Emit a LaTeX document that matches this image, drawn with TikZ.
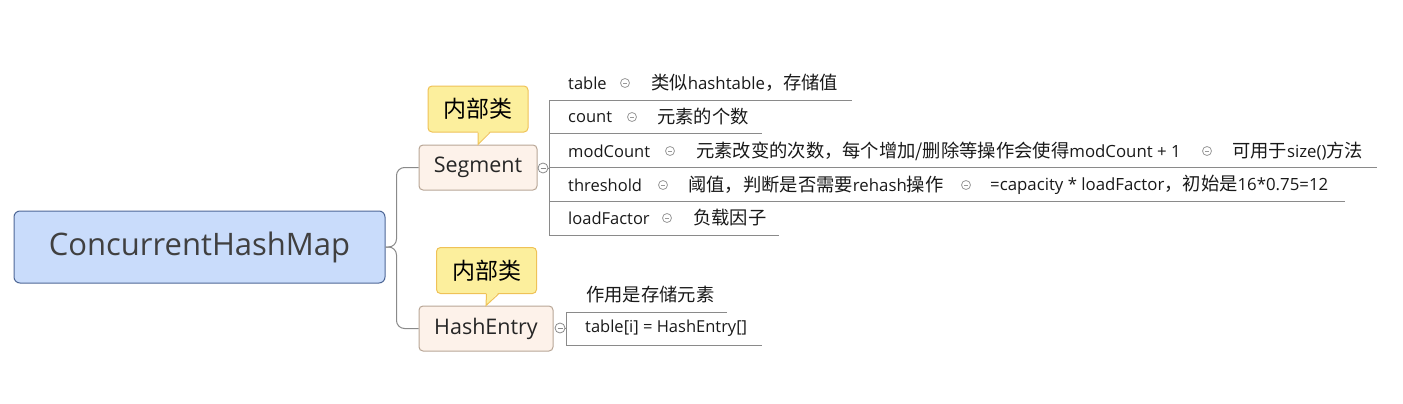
\documentclass[tikz,border=0pt]{standalone}
\usepackage{fontspec}
\setmainfont{Open Sans}
\newfontfamily\cjk{Noto Sans CJK SC}
\usepackage{tikz}
\usetikzlibrary{positioning, calc}

\definecolor{rootfill}{HTML}{C9DCFB}
\definecolor{rootline}{HTML}{4E6796}
\definecolor{roottext}{HTML}{404040}
\definecolor{topicfill}{HTML}{FDF2EA}
\definecolor{topicline}{HTML}{B8A696}
\definecolor{tagfill}{HTML}{FCEF9D}
\definecolor{tagline}{HTML}{EFC257}
\definecolor{linkgray}{HTML}{8A8A8A}

\newcommand{\lat}[1]{{\rmfamily\fontsize{16.8}{20}\selectfont #1}}

\tikzstyle{root} = [rectangle, rounded corners=6, minimum width=371, minimum height=72, draw=rootline, fill=rootfill, text=roottext, line width=1, font=\fontsize{31}{36}\selectfont]
\tikzstyle{topic} = [rectangle, rounded corners=4, minimum height=45, draw=topicline, fill=topicfill, text=black!85, line width=1, font=\fontsize{21.5}{26}\selectfont]
\tikzstyle{tag} = [rectangle, rounded corners=4, minimum width=100, minimum height=46, draw=tagline, fill=tagfill, line width=1, font=\cjk\fontsize{23}{27}\selectfont]
\tikzstyle{fold} = [circle, draw=linkgray, fill=white, inner sep=0, minimum size=10, line width=0.8, path picture={\draw[linkgray, line width=0.8] ([xshift=2.5]path picture bounding box.west) -- ([xshift=-2.5]path picture bounding box.east);}]
\tikzstyle{sepdot} = [circle, draw=black!40, inner sep=0, minimum size=9, line width=0.8, path picture={\draw[black!40, line width=0.8] ([xshift=2.5]path picture bounding box.west) -- ([xshift=-2.5]path picture bounding box.east);}]
\tikzstyle{key} = [anchor=west, inner sep=0, text=black!90, font=\fontsize{16.5}{20}\selectfont]
\tikzstyle{val} = [key, font=\cjk\fontsize{18.3}{21}\selectfont]
\tikzstyle{link} = [draw=linkgray, line width=1]

\begin{document}
\begin{tikzpicture}[x=1pt, y=-1pt]
				\useasboundingbox (0,0) rectangle (1403,404);
				\node(root) [root] at (199.5,247) {ConcurrentHashMap};
				%----------------------------------------------------%
				\node(seg) [topic, minimum width=118] at (478,167.5) {Segment};
				\node(segtag) [tag] at (478,109) {内部类};
				\fill[tagfill] ([yshift=1.5]segtag.south) -- (seg.north) -- ([xshift=12,yshift=1.5]segtag.south) -- cycle;
				\draw[tagline, line width=1] (segtag.south) -- (seg.north) -- ([xshift=12]segtag.south);
				\node(segfold) [fold] at (543,168) {};
				
				\node(k1) [key] at (568,83) {table};
				\node(d1) [sepdot] at (625,83) {};
				\node(v1) [val] at (651,83) {类似\lat{hashtable}，存储值};
				\node(k2) [key] at (568,117) {count};
				\node(d2) [sepdot] at (632,117) {};
				\node(v2) [val] at (657,117) {元素的个数};
				\node(k3) [key] at (568,151) {modCount};
				\node(d3) [sepdot] at (670,151) {};
				\node(v3) [val] at (696,151) {元素改变的次数，每个增加/删除等操作会使得\lat{modCount + 1}};
				\node(d3b) [sepdot] at (1207,151) {};
				\node(v3b) [val] at (1232,151) {可用于\lat{size()}方法};
				\node(k4) [key] at (568,185) {threshold};
				\node(d4) [sepdot] at (663,185) {};
				\node(v4) [val] at (688,185) {阈值，判断是否需要\lat{rehash}操作};
				\node(d4b) [sepdot] at (966,185) {};
				\node(v4b) [val] at (990,185) {\lat{=capacity * loadFactor}，初始是\lat{16*0.75=12}};
				\node(k5) [key] at (568,218) {loadFactor};
				\node(d5) [sepdot] at (667,218) {};
				\node(v5) [val] at (693,218) {负载因子};
				
				\coordinate(segbar) at (549,168);
				\draw[link] (segfold) -- (segbar);
				\draw[link] (549,100) -- (549,235);
				\draw[link] (549,100) -- (852,100);
				\draw[link] (549,133) -- (762,133);
				\draw[link] (549,167) -- (1377,167);
				\draw[link] (549,201) -- (1345,201);
				\draw[link] (549,235) -- (779,235);
				
				%----------------------------------------------------%
				\node(he) [topic, minimum width=134] at (486,328.5) {HashEntry};
				\node(hetag) [tag] at (486.5,270.5) {内部类};
				\fill[tagfill] ([yshift=1.5]hetag.south) -- (he.north) -- ([xshift=12,yshift=1.5]hetag.south) -- cycle;
				\draw[tagline, line width=1] (hetag.south) -- (he.north) -- ([xshift=12]hetag.south);
				\node(hefold) [fold] at (560,328) {};
				
				\node(hk) [key] at (585,328) {table[i] = HashEntry[]};
				\node(hn) [val] at (586,295) {作用是存储元素};
				
				\coordinate(hebar) at (566,328);
				\draw[link] (hefold) -- (hebar);
				\draw[link] (727,312) -- (566,312) -- (566,345) -- (762,345);
				
				%----------------------------------------------------%
				\draw[link, rounded corners=8] (root.east) -- ++(11,0) |- (seg.west);
				\draw[link, rounded corners=8] (root.east) -- ++(11,0) |- (he.west);
			\end{tikzpicture}
\end{document}
